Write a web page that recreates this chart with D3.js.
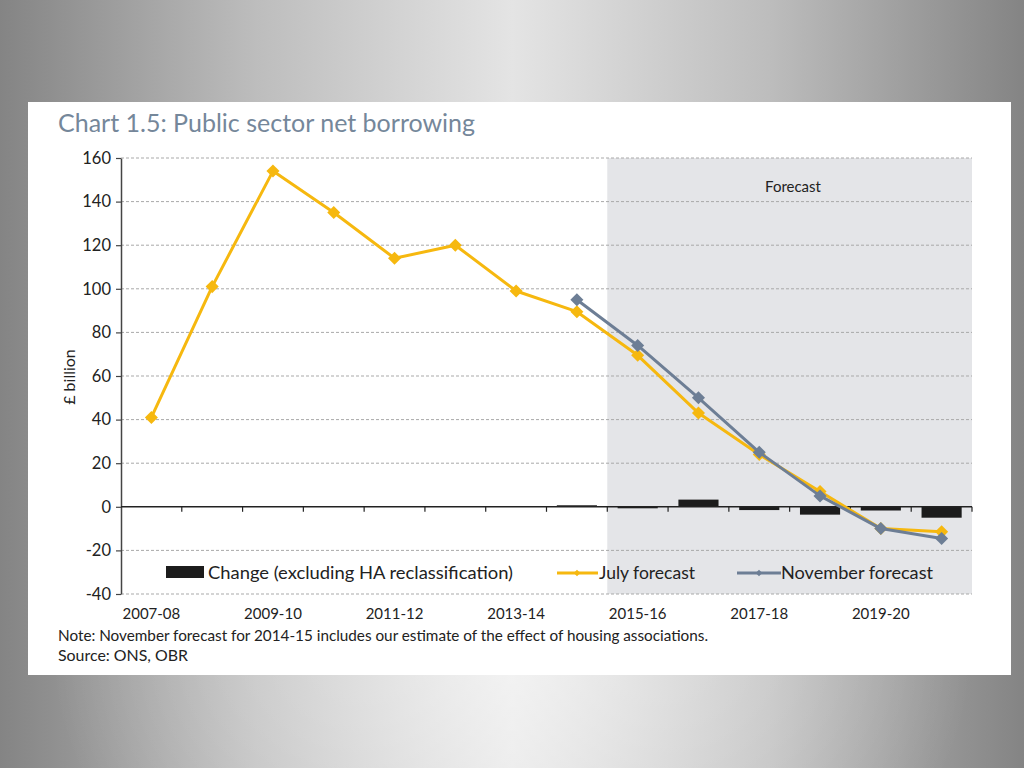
<!DOCTYPE html>
<html>
<head>
<meta charset="utf-8">
<script src="https://cdn.jsdelivr.net/npm/d3@7"></script>
<style>
html,body{margin:0;padding:0;width:1024px;height:768px;overflow:hidden;}
svg{display:block;}
text{font-family:Lato,"Noto Sans",sans-serif;}
</style>
</head>
<body>
<script>
const categories = ["2007-08","2008-09","2009-10","2010-11","2011-12","2012-13","2013-14","2014-15","2015-16","2016-17","2017-18","2018-19","2019-20","2020-21"];
const tickLabels = ["2007-08","2009-10","2011-12","2013-14","2015-16","2017-18","2019-20"];
const julyForecast = [41,101,154,135,114,120,99,89.5,69.5,43,24,7,-10,-11.5];
const novemberForecast = [null,null,null,null,null,null,null,95,74,50,25,5,-10,-14.5];
const change = [null,null,null,null,null,null,null,0.7,-0.3,3.3,-1.5,-3.6,-1.7,-5];
const yTicks = [-40,-20,0,20,40,60,80,100,120,140,160];
const forecastStart = "2015-16";

(function(){
const W = 1024, H = 768;
const svg = d3.select("body").append("svg").attr("width", W).attr("height", H);

// background gradient
const defs = svg.append("defs");
const lgH = defs.append("linearGradient").attr("id","bgH").attr("x1","0%").attr("x2","100%").attr("y1","0%").attr("y2","0%");
[["0%","#848484"],["25%","#bdbdbd"],["50%","#e4e4e4"],["75%","#bdbdbd"],["100%","#848484"]].forEach(s=>lgH.append("stop").attr("offset",s[0]).attr("stop-color",s[1]));
const rg = defs.append("radialGradient").attr("id","bgR").attr("cx","50%").attr("cy","85%").attr("r","45%");
rg.append("stop").attr("offset","0%").attr("stop-color","#ffffff").attr("stop-opacity",0.55);
rg.append("stop").attr("offset","100%").attr("stop-color","#ffffff").attr("stop-opacity",0);
svg.append("rect").attr("width",W).attr("height",H).attr("fill","url(#bgH)");
svg.append("rect").attr("width",W).attr("height",H).attr("fill","url(#bgR)");

// white panel
svg.append("rect").attr("x",28).attr("y",102).attr("width",983).attr("height",573).attr("fill","#ffffff");

// title
svg.append("text").attr("x",58).attr("y",132).attr("font-size",25).attr("fill","#75879a").text("Chart 1.5: Public sector net borrowing");

const pL = 121, pR = 972, pT = 158, pB = 594;
const x = d3.scaleBand().domain(categories).range([pL, pR]).paddingInner(0).paddingOuter(0);
const y = d3.scaleLinear().domain([-40,160]).range([pB, pT]);

// forecast shading
svg.append("rect").attr("x", x(forecastStart)).attr("y", pT).attr("width", pR - x(forecastStart)).attr("height", pB - pT).attr("fill","#e4e5e8");
svg.append("text").attr("x", 793).attr("y", 192).attr("text-anchor","middle").attr("font-size",15).attr("fill","#222").text("Forecast");

// gridlines
svg.append("g").selectAll("line").data(yTicks.filter(d=>d!==0)).join("line")
  .attr("x1", pL).attr("x2", pR).attr("y1", d=>y(d)).attr("y2", d=>y(d))
  .attr("stroke","#a9a9a9").attr("stroke-width",1).attr("stroke-dasharray","3,2");

// y axis
const yAxis = svg.append("g").attr("transform",`translate(${pL},0)`)
  .call(d3.axisLeft(y).tickValues(yTicks).tickSize(5).tickSizeOuter(0).tickFormat(d => String(d)));
yAxis.select(".domain").attr("stroke","#444").attr("stroke-width",1.5);
yAxis.selectAll(".tick line").attr("stroke","#444").attr("stroke-width",1.2);
yAxis.selectAll("text").attr("font-size",16.5).attr("fill","#222").attr("x",-10).style("font-family","Lato,'Noto Sans',sans-serif");

svg.append("text").attr("transform","translate(75,377) rotate(-90)").attr("text-anchor","middle").attr("font-size",16).attr("fill","#222").text("£ billion");

// bars
svg.append("g").selectAll("rect").data(categories.map((c,i)=>({c, v: change[i]})).filter(d=>d.v!==null)).join("rect")
  .attr("x", d => x(d.c) + x.bandwidth()*0.17)
  .attr("width", x.bandwidth()*0.66)
  .attr("y", d => y(Math.max(0,d.v)))
  .attr("height", d => Math.max(1.5, Math.abs(y(d.v) - y(0))))
  .attr("fill","#1c1c1c");

// zero axis with ticks
const xAxis = svg.append("g").attr("transform",`translate(0,${y(0)})`);
xAxis.append("line").attr("x1",pL).attr("x2",pR).attr("stroke","#222").attr("stroke-width",1.5);
xAxis.selectAll("line.t").data(categories).join("line").attr("class","t")
  .attr("x1", d=> x(d) + x.bandwidth()).attr("x2", d=> x(d) + x.bandwidth())
  .attr("y1",0).attr("y2",5).attr("stroke","#222").attr("stroke-width",1.2);

// x labels at bottom
svg.append("g").selectAll("text").data(tickLabels).join("text")
  .attr("x", d => x(d) + x.bandwidth()/2).attr("y", 619).attr("text-anchor","middle")
  .attr("font-size",15).attr("fill","#222").text(d=>d);

// lines
const yellow = "#f6b80f", slate = "#6d7e95";
function drawSeries(vals, color){
  const pts = categories.map((c,i)=>({c, v: vals[i]})).filter(d=>d.v!==null);
  const line = d3.line().x(d=>x(d.c)+x.bandwidth()/2).y(d=>y(d.v));
  svg.append("path").datum(pts).attr("d", line).attr("fill","none").attr("stroke",color).attr("stroke-width",3).attr("stroke-linejoin","round");
  svg.append("g").selectAll("path").data(pts).join("path")
    .attr("d", d3.symbol().type(d3.symbolSquare).size(85))
    .attr("transform", d=>`translate(${x(d.c)+x.bandwidth()/2},${y(d.v)}) rotate(45)`)
    .attr("fill", color);
}
drawSeries(julyForecast, yellow);
drawSeries(novemberForecast, slate);

// legend
const lg = svg.append("g");
lg.append("rect").attr("x",166).attr("y",566).attr("width",38).attr("height",12).attr("fill","#1c1c1c");
lg.append("text").attr("x",208).attr("y",579).attr("font-size",17).attr("fill","#222").attr("textLength",305).attr("lengthAdjust","spacingAndGlyphs").text("Change (excluding HA reclassification)");
lg.append("line").attr("x1",557).attr("x2",598).attr("y1",573).attr("y2",573).attr("stroke",yellow).attr("stroke-width",3);
lg.append("path").attr("d", d3.symbol().type(d3.symbolSquare).size(22)).attr("transform","translate(577,573) rotate(45)").attr("fill",yellow);
lg.append("text").attr("x",599).attr("y",579).attr("font-size",17).attr("fill","#222").attr("textLength",96).attr("lengthAdjust","spacingAndGlyphs").text("July forecast");
lg.append("line").attr("x1",737).attr("x2",781).attr("y1",573).attr("y2",573).attr("stroke",slate).attr("stroke-width",3);
lg.append("path").attr("d", d3.symbol().type(d3.symbolSquare).size(22)).attr("transform","translate(759,573) rotate(45)").attr("fill",slate);
lg.append("text").attr("x",781).attr("y",579).attr("font-size",17).attr("fill","#222").attr("textLength",152).attr("lengthAdjust","spacingAndGlyphs").text("November forecast");

// notes
svg.append("text").attr("x",58).attr("y",641).attr("font-size",15).attr("fill","#222").attr("textLength",650).attr("lengthAdjust","spacingAndGlyphs").text("Note: November forecast for 2014-15 includes our estimate of the effect of housing associations.");
svg.append("text").attr("x",58).attr("y",661).attr("font-size",15).attr("fill","#222").attr("textLength",130).attr("lengthAdjust","spacingAndGlyphs").text("Source: ONS, OBR");
})();
</script>
</body>
</html>
